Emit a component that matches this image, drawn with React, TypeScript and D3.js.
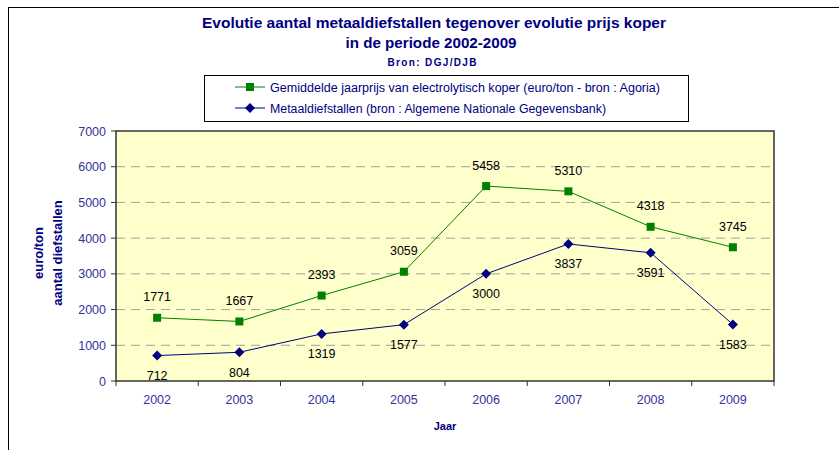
import React from 'react';
import * as d3 from 'd3';

const years = ['2002', '2003', '2004', '2005', '2006', '2007', '2008', '2009'];
const koperPrijs = [1771, 1667, 2393, 3059, 5458, 5310, 4318, 3745];
const diefstallen = [712, 804, 1319, 1577, 3000, 3837, 3591, 1583];
const yTicks = [0, 1000, 2000, 3000, 4000, 5000, 6000, 7000];
const titleLines = ['Evolutie aantal metaaldiefstallen tegenover evolutie prijs koper', 'in de periode 2002-2009'];
const sourceText = 'Bron: DGJ/DJB';
const legendLabels = [
  'Gemiddelde jaarprijs van electrolytisch koper (euro/ton - bron : Agoria)',
  'Metaaldiefstallen (bron : Algemene Nationale Gegevensbank)'
];

const W = 839;
const H = 450;
const plot = { left: 116, top: 131, right: 774, bottom: 381 };
const NAVY = '#000080';
const LABEL = '#333399';
const GREEN = '#008000';
const FONT = 'Arial, "Liberation Sans", sans-serif';

export default function App() {
  const x = d3.scaleBand().domain(years).range([plot.left, plot.right]);
  const y = d3.scaleLinear().domain([0, 7000]).range([plot.bottom, plot.top]);
  const cx = (yr: string) => (x(yr) as number) + x.bandwidth() / 2;
  const line = d3.line<number>().x((d, i) => cx(years[i])).y(d => y(d));

  const series = [
    { values: koperPrijs, color: GREEN, marker: 'square', dy: -21, legendW: 390 },
    { values: diefstallen, color: NAVY, marker: 'diamond', dy: 20, legendW: 336 }
  ];

  const marker = (kind: string, px: number, py: number, color: string, key: string) =>
    kind === 'square' ? (
      <rect key={key} x={px - 4} y={py - 4} width={8} height={8} fill={color} />
    ) : (
      <path key={key} d={`M${px},${py - 5}L${px + 5},${py}L${px},${py + 5}L${px - 5},${py}Z`} fill={color} />
    );

  return (
    <svg width={W} height={H} style={{ position: 'absolute', left: 0, top: 0 }} fontFamily={FONT}>
      <rect x={0} y={0} width={W} height={H} fill="#fff" />
      <rect x={8.5} y={7.5} width={W + 10} height={H + 10} fill="#fff" stroke="#000" strokeWidth={1} />

      {/* titles */}
      <text x={434} y={28} textAnchor="middle" fontSize={15} fontWeight="bold" fill={NAVY} textLength={464} lengthAdjust="spacingAndGlyphs">{titleLines[0]}</text>
      <text x={431} y={48} textAnchor="middle" fontSize={15} fontWeight="bold" fill={NAVY} textLength={171} lengthAdjust="spacingAndGlyphs">{titleLines[1]}</text>
      <text x={432} y={66} textAnchor="middle" fontSize={10} fontWeight="bold" fill={NAVY} textLength={89} lengthAdjust="spacing">{sourceText}</text>

      {/* legend */}
      <rect x={204.5} y={75.5} width={484} height={46} fill="#fff" stroke="#000" strokeWidth={1} />
      {series.map((s, i) => {
        const ly = 87 + i * 21;
        return (
          <g key={'lg' + i}>
            <line x1={235} x2={265} y1={ly} y2={ly} stroke={s.color} strokeWidth={1} />
            {marker(s.marker, 250, ly, s.color, 'lm' + i)}
            <text x={270} y={ly + 4.5} fontSize={12.5} fill={NAVY} textLength={s.legendW} lengthAdjust="spacingAndGlyphs">{legendLabels[i]}</text>
          </g>
        );
      })}

      {/* plot area */}
      <rect x={plot.left} y={plot.top} width={plot.right - plot.left} height={plot.bottom - plot.top} fill="#FFFFCC" />
      {yTicks.filter(t => t > 0 && t < 7000).map(t => (
        <line key={'g' + t} x1={plot.left} x2={plot.right} y1={y(t)} y2={y(t)} stroke="#A0A0A0" strokeWidth={1} strokeDasharray="9,6" />
      ))}
      <rect x={plot.left} y={plot.top} width={plot.right - plot.left} height={plot.bottom - plot.top} fill="none" stroke="#333" strokeWidth={1.5} />

      {/* y axis */}
      {yTicks.map(t => (
        <g key={'yt' + t}>
          <line x1={plot.left - 5} x2={plot.left} y1={y(t)} y2={y(t)} stroke="#333" strokeWidth={1} />
          <text x={106} y={y(t) + 4.5} textAnchor="end" fontSize={12.5} fill={LABEL}>{t}</text>
        </g>
      ))}
      <g transform="translate(43,253) rotate(-90)">
        <text x={0} y={0} textAnchor="middle" fontSize={13} fontWeight="bold" fill={NAVY}>euro/ton</text>
        <text x={0} y={19} textAnchor="middle" fontSize={13} fontWeight="bold" fill={NAVY}>aantal diefstallen</text>
      </g>

      {/* x axis */}
      {years.map(yr => (
        <line key={'xt' + yr} x1={x(yr) as number} x2={x(yr) as number} y1={plot.bottom} y2={plot.bottom + 5} stroke="#333" strokeWidth={1} />
      ))}
      <line x1={plot.right} x2={plot.right} y1={plot.bottom} y2={plot.bottom + 5} stroke="#333" strokeWidth={1} />
      {years.map(yr => (
        <text key={'xl' + yr} x={cx(yr)} y={404} textAnchor="middle" fontSize={12.5} fill={LABEL}>{yr}</text>
      ))}
      <text x={445} y={430} textAnchor="middle" fontSize={11} fontWeight="bold" fill={NAVY}>Jaar</text>

      {/* series */}
      {series.map((s, si) => (
        <g key={'s' + si}>
          <path d={line(s.values) || ''} fill="none" stroke={s.color} strokeWidth={1} />
          {s.values.map((v, i) => marker(s.marker, cx(years[i]), y(v), s.color, 'm' + si + i))}
          {s.values.map((v, i) => (
            <text key={'dl' + si + i} x={cx(years[i])} y={y(v) + s.dy + 4.5} textAnchor="middle" fontSize={12.5} fill="#000">{v}</text>
          ))}
        </g>
      ))}
    </svg>
  );
}
